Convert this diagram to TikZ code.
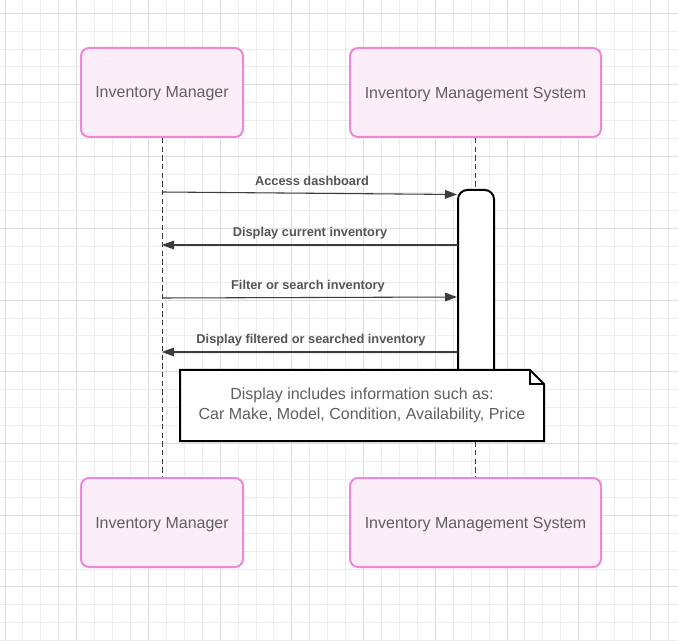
\documentclass[tikz,border=0pt]{standalone}
\usepackage{fontspec}
\setmainfont{Liberation Sans}
\usetikzlibrary{arrows.meta}
\definecolor{gridminor}{RGB}{236,236,236}
\definecolor{gridmajor}{RGB}{221,221,221}
\definecolor{boxfill}{RGB}{252,238,249}
\definecolor{boxline}{RGB}{238,135,215}
\definecolor{txtgray}{RGB}{95,95,95}
\definecolor{lblgray}{RGB}{85,85,85}
\definecolor{arrowcol}{RGB}{60,60,60}
\tikzset{
  actor/.style={draw=boxline, fill=boxfill, line width=1.5pt, rounded corners=6pt,
    text=txtgray, font=\fontsize{12}{14}\selectfont, inner sep=0pt},
  lifeline/.style={draw=arrowcol, line width=0.75pt, dash pattern=on 4pt off 2.5pt},
  msg/.style={draw=arrowcol, line width=0.8pt, -{Triangle[length=9pt,width=6.5pt]}},
  msglabel/.style={text=lblgray, font=\bfseries\fontsize{9.6}{11}\selectfont, inner sep=0pt},
  notetext/.style={text=txtgray, font=\fontsize{12}{15}\selectfont, align=center, inner sep=0pt},
}
\begin{document}
\begin{tikzpicture}[x=0.75pt,y=-0.75pt]
\useasboundingbox (0,0) rectangle (678,641);
\fill[white] (0,0) rectangle (678,641);
% grid
\foreach \i in {0,...,37} {
  \pgfmathsetmacro{\xx}{5+17.93*\i}
  \pgfmathtruncatemacro{\mm}{mod(\i,4)}
  \ifnum\mm=0
    \draw[gridmajor, line width=0.75pt] (\xx,0) -- (\xx,641);
  \else
    \draw[gridminor, line width=0.75pt] (\xx,0) -- (\xx,641);
  \fi
}
\foreach \i in {0,...,35} {
  \pgfmathsetmacro{\yy}{13.2+17.93*\i}
  \pgfmathtruncatemacro{\mm}{mod(\i,4)}
  \ifnum\mm=0
    \draw[gridmajor, line width=0.75pt] (0,\yy) -- (678,\yy);
  \else
    \draw[gridminor, line width=0.75pt] (0,\yy) -- (678,\yy);
  \fi
}
% actors
\node[actor, minimum width=121.5pt, minimum height=66.75pt, text depth=0pt] (mgrTop) at (162,92.5) {Inventory Manager};
\node[actor, minimum width=188.25pt, minimum height=66.75pt, text depth=0pt] (sysTop) at (475.5,92.5) {Inventory Management System};
\node[actor, minimum width=121.5pt, minimum height=66.75pt, text depth=0pt] (mgrBot) at (162,522.5) {Inventory Manager};
\node[actor, minimum width=188.25pt, minimum height=66.75pt, text depth=0pt] (sysBot) at (475.5,522.5) {Inventory Management System};
% lifelines
\draw[lifeline] (mgrTop.south) -- (mgrBot.north);
\draw[lifeline] (sysTop.south) -- (sysBot.north);
% activation bar
\coordinate (actTL) at (458,190);
\coordinate (actBR) at (494,372);
\draw[fill=white, line width=1.5pt, rounded corners=7pt] (458,372) -- (actTL) -- (494,190) -- (actBR);
% message end points
\coordinate (m1s) at (162,192);
\coordinate (m1e) at (457,194.5);
\coordinate (m2s) at (458,245);
\coordinate (m2e) at (162,245);
\coordinate (m3s) at (162,298);
\coordinate (m3e) at (457,297);
\coordinate (m4s) at (458,352);
\coordinate (m4e) at (162,352);
\draw[msg] (m1s) -- (m1e);
\draw[msg] (m2s) -- (m2e);
\draw[msg] (m3s) -- (m3e);
\draw[msg] (m4s) -- (m4e);
\node[msglabel] (l1) at (312,181) {Access dashboard};
\node[msglabel] (l2) at (310,233) {Display current inventory};
\node[msglabel] (l3) at (308,286) {Filter or search inventory};
\node[msglabel] (l4) at (311,340) {Display filtered or searched inventory};
% note
\draw[fill=white, line width=1.5pt, line join=miter] (180,370) -- (530,370) -- (544,384) -- (544,441) -- (180,441) -- cycle;
\draw[line width=1pt] (530,370) -- (530,384) -- (544,384);
\node[notetext] (note) at (362,405) {Display includes information such as:\\Car Make, Model, Condition, Availability, Price};
\end{tikzpicture}
\end{document}
